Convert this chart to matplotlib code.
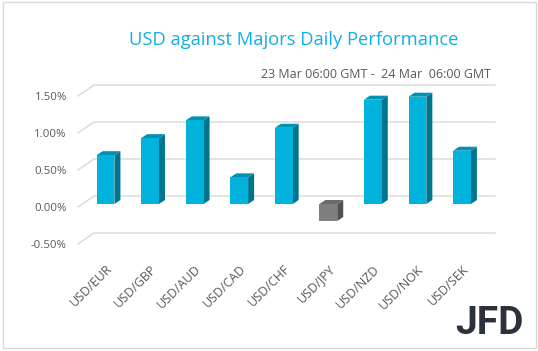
import matplotlib.pyplot as plt
from matplotlib.patches import Polygon, Rectangle

pairs = ['USD/EUR', 'USD/GBP', 'USD/AUD', 'USD/CAD', 'USD/CHF',
         'USD/JPY', 'USD/NZD', 'USD/NOK', 'USD/SEK']
perf = [0.66, 0.89, 1.13, 0.36, 1.03, -0.23, 1.41, 1.45, 0.72]
yticks = [-0.5, 0.0, 0.5, 1.0, 1.5]

title = 'USD against Majors Daily Performance'
subtitle = '23 Mar 06:00 GMT -  24 Mar  06:00 GMT'

plt.rcParams['font.family'] = ['Open Sans', 'DejaVu Sans']

W, H = 538, 351
fig = plt.figure(figsize=(W / 100, H / 100), dpi=100)

# pixel layout of the plot box
x0_px, step_px = 105.5, 44.56     # centre of first bar, spacing
zero_px, unit_px = 204, 74        # y of 0%, pixels per 1%
left, right, top, bottom = 85, 500, 70, 250
ax = fig.add_axes([left / W, 1 - bottom / H, (right - left) / W, (bottom - top) / H])
ax.set_xlim((left - x0_px) / step_px, (right - x0_px) / step_px)
ax.set_ylim((zero_px - bottom) / unit_px, (zero_px - top) / unit_px)
for s in ax.spines.values():
    s.set_visible(False)

# pseudo 3d depth
dx, dy = 0.135, 0.054
grid_front_x, grid_back_x, grid_end_x = -0.617, -0.258, 8.74
front_off, back_off = -0.04, 0.108

for t in yticks:
    ax.plot([grid_front_x, grid_back_x, grid_end_x],
            [t + front_off, t + back_off, t + back_off],
            color='#d9d9d9', lw=1, clip_on=False, zorder=0)

width = 0.4
for i, v in enumerate(perf):
    if v >= 0:
        front, side, topc = '#00b2dc', '#00768e', '#0092b2'
    else:
        front, side, topc = '#7f7f7f', '#525252', '#6a6a6a'
    lo, hi = min(v, 0), max(v, 0)
    xl, xr = i - width / 2, i + width / 2
    ax.bar(i, v, width=width, color=front, zorder=3)
    ax.add_patch(Polygon([(xr, lo), (xr, hi), (xr + dx, hi + dy), (xr + dx, lo + dy)],
                         closed=True, color=side, zorder=2, lw=0))
    ax.add_patch(Polygon([(xl, hi), (xr, hi), (xr + dx, hi + dy), (xl + dx, hi + dy)],
                         closed=True, color=topc, zorder=2, lw=0))

ax.set_yticks([t + front_off for t in yticks])
ax.set_yticklabels([f'{t:.2f}%' for t in yticks])
ax.tick_params(axis='y', length=0, pad=13, labelsize=8.2, labelcolor='#595959')
ax.set_xticks(range(len(pairs)))
ax.set_xticklabels(pairs, rotation=45, ha='right', va='top', rotation_mode='anchor')
ax.tick_params(axis='x', length=0, pad=9, labelsize=9, labelcolor='#595959')

fig.text(294 / W, 1 - 40 / H, title, ha='center', va='center', fontsize=13.2, color='#12b0e2')
fig.text(491 / W, 1 - 74 / H, subtitle, ha='right', va='center', fontsize=9, color='#595959')
fig.text(489 / W, 1 - 323 / H, 'JFD', ha='center', va='center', fontsize=28,
         fontweight='bold', family='Roboto', color='#2b323c')

fig.patches.append(Rectangle((2.5 / W, 3.5 / H), 533 / W, 346 / H, transform=fig.transFigure,
                             fill=False, edgecolor='#d9d9d9', lw=1))

fig.savefig('out.png', dpi=100)
